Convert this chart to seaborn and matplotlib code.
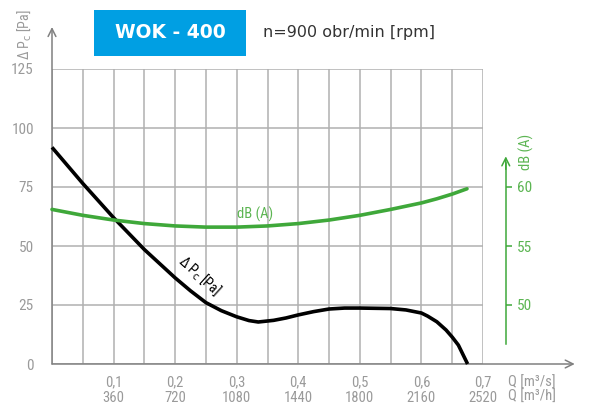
import matplotlib
matplotlib.use("Agg")
import matplotlib.pyplot as plt
import seaborn as sns
import pandas as pd
from matplotlib import font_manager

# ---------------- data ----------------
q_pressure = [0.0, 0.05, 0.1, 0.15, 0.2, 0.225, 0.25, 0.275, 0.3, 0.32, 0.335,
              0.36, 0.38, 0.4, 0.425, 0.45, 0.475, 0.5, 0.55, 0.575, 0.6,
              0.61, 0.625, 0.64, 0.65, 0.66, 0.675]
pressure_pa = [91.8, 76.5, 62.0, 48.5, 36.5, 31.0, 26.0, 22.6, 20.0, 18.4, 17.8,
               18.5, 19.5, 20.8, 22.2, 23.3, 23.7, 23.7, 23.5, 22.9, 21.6,
               20.3, 17.9, 14.4, 11.4, 8.0, 0.0]

q_noise = [0.0, 0.05, 0.1, 0.15, 0.2, 0.25, 0.3, 0.35, 0.4, 0.45, 0.5,
           0.55, 0.6, 0.625, 0.65, 0.674]
noise_db = [58.1, 57.6, 57.2, 56.9, 56.7, 56.6, 56.6, 56.7, 56.9, 57.2, 57.6,
            58.1, 58.65, 59.0, 59.4, 59.85]

x_ticks_m3s = [0.1, 0.2, 0.3, 0.4, 0.5, 0.6, 0.7]
x_labels_m3s = ["0,1", "0,2", "0,3", "0,4", "0,5", "0,6", "0,7"]
x_labels_m3h = ["360", "720", "1080", "1440", "1800", "2160", "2520"]
y_ticks_pa = [0, 25, 50, 75, 100, 125]
y_ticks_db = [50, 55, 60]

title = "WOK - 400"
subtitle = "n=900 obr/min [rpm]"

# ---------------- style ----------------
sns.set_style("white")
plt.rcParams["font.family"] = ["DejaVu Sans"]
names = {f.name for f in font_manager.fontManager.ttflist}
if "Roboto Condensed" in names:
    CF = dict(fontfamily="Roboto Condensed")
elif "Liberation Sans Narrow" in names:
    CF = dict(fontfamily="Liberation Sans Narrow")
else:
    CF = dict(fontfamily="DejaVu Sans", fontstretch="condensed")

GRAY_TXT = "#9a9a9a"
GRID = "#b0b0b0"
AXIS = "#808080"
GREEN = "#3fa83a"
GREEN_TXT = "#5cb552"
BLUE = "#009fe3"

fig = plt.figure(figsize=(5.89, 4.05), dpi=100)
W, H = 589, 405
ax = fig.add_axes([52 / W, (H - 364) / H, 431 / W, 295 / H])
ax.set_xlim(0, 0.7)
ax.set_ylim(0, 125)

df_p = pd.DataFrame({"Q": q_pressure, "P": pressure_pa})
df_n = pd.DataFrame({"Q": q_noise, "dB": noise_db})

# grid
ax.set_xticks([i * 0.05 for i in range(15)], minor=True)
ax.set_xticks(x_ticks_m3s)
ax.set_xticklabels([f"{a}\n{b}" for a, b in zip(x_labels_m3s, x_labels_m3h)],
                   fontsize=10.5, color=GRAY_TXT, linespacing=1.15, **CF)
ax.set_yticks(y_ticks_pa)
ax.set_yticklabels([str(v) for v in y_ticks_pa], fontsize=11,
                   color=GRAY_TXT, **CF)
ax.grid(which="both", color=GRID, lw=1.1)
ax.tick_params(axis="both", which="both", length=0)
ax.tick_params(axis="y", pad=13)
ax.tick_params(axis="x", pad=8)
for s in ax.spines.values():
    s.set_visible(False)

# axis arrows
ax.annotate("", xy=(0.849, 0), xytext=(0, 0), xycoords="data",
            arrowprops=dict(arrowstyle="->", color=AXIS, lw=1.1,
                            mutation_scale=14, shrinkA=0, shrinkB=0),
            annotation_clip=False)
ax.annotate("", xy=(0, 142.8), xytext=(0, 0), xycoords="data",
            arrowprops=dict(arrowstyle="->", color=AXIS, lw=1.1,
                            mutation_scale=14, shrinkA=0, shrinkB=0),
            annotation_clip=False)

# pressure curve
sns.lineplot(data=df_p, x="Q", y="P", ax=ax, color="black", lw=2.6,
             clip_on=False, zorder=5, solid_joinstyle="round",
             solid_capstyle="butt")
ax.set_xlabel("")
ax.set_ylabel("")

# noise curve on twin axis
ax2 = ax.twinx()
ax2.set_ylim(45, 70)
sns.lineplot(data=df_n, x="Q", y="dB", ax=ax2, color=GREEN, lw=2.6,
             clip_on=False, zorder=5, solid_joinstyle="round")
ax2.set_xlim(0, 0.7)
ax2.set_xlabel("")
ax2.set_ylabel("")
for k in ["top", "left", "bottom"]:
    ax2.spines[k].set_visible(False)
xr = 0.737
ax2.spines["right"].set_position(("data", xr))
ax2.spines["right"].set_bounds(46.7, 62.0)
ax2.spines["right"].set_color(GREEN)
ax2.spines["right"].set_linewidth(1.1)
ax2.set_yticks(y_ticks_db)
ax2.set_yticklabels([str(v) for v in y_ticks_db], fontsize=11,
                    color=GREEN_TXT, **CF)
ax2.tick_params(axis="y", length=4, width=1.1, color=GREEN, pad=4)
ax2.annotate("", xy=(xr, 62.6), xytext=(xr, 61.5), xycoords="data",
             arrowprops=dict(arrowstyle="->", color=GREEN, lw=1.1,
                             mutation_scale=14, shrinkA=0, shrinkB=0),
             annotation_clip=False)
ax2.grid(False)

# curve labels
ax.text(0.33, 63.5, "dB (A)", color=GREEN_TXT, fontsize=10.5,
        ha="center", va="center", zorder=6, **CF)
ax.text(0.24, 37.5, r"Δ P$_{\mathrm{c}}$ [Pa]", color="black", fontsize=10,
        rotation=-42, ha="center", va="center", zorder=6, **CF)

# axis titles
fig.text(24 / W, 1 - 35 / H, r"Δ P$_{\mathrm{c}}$ [Pa]", color=GRAY_TXT,
         fontsize=10, rotation=90, ha="center", va="center", **CF)
fig.text(526 / W, 1 - 152 / H, "dB (A)", color=GREEN_TXT, fontsize=10.5,
         rotation=90, ha="center", va="center", **CF)
fig.text(532 / W, 1 - 383 / H, "Q [m³/s]", color=GRAY_TXT, fontsize=10.5,
         ha="center", va="center", **CF)
fig.text(532 / W, 1 - 397 / H, "Q [m³/h]", color=GRAY_TXT, fontsize=10.5,
         ha="center", va="center", **CF)

# title box
box = plt.Rectangle((94 / W, 1 - 56 / H), 152 / W, 46 / H, transform=fig.transFigure,
                    color=BLUE, lw=0)
fig.patches.append(box)
fig.text(170 / W, 1 - 33 / H, title, color="white", fontsize=13.5,
         fontweight="bold", ha="center", va="center")
fig.text(263 / W, 1 - 33 / H, subtitle, color="#333333", fontsize=11.5,
         ha="left", va="center")

fig.savefig("out.png", dpi=100)
